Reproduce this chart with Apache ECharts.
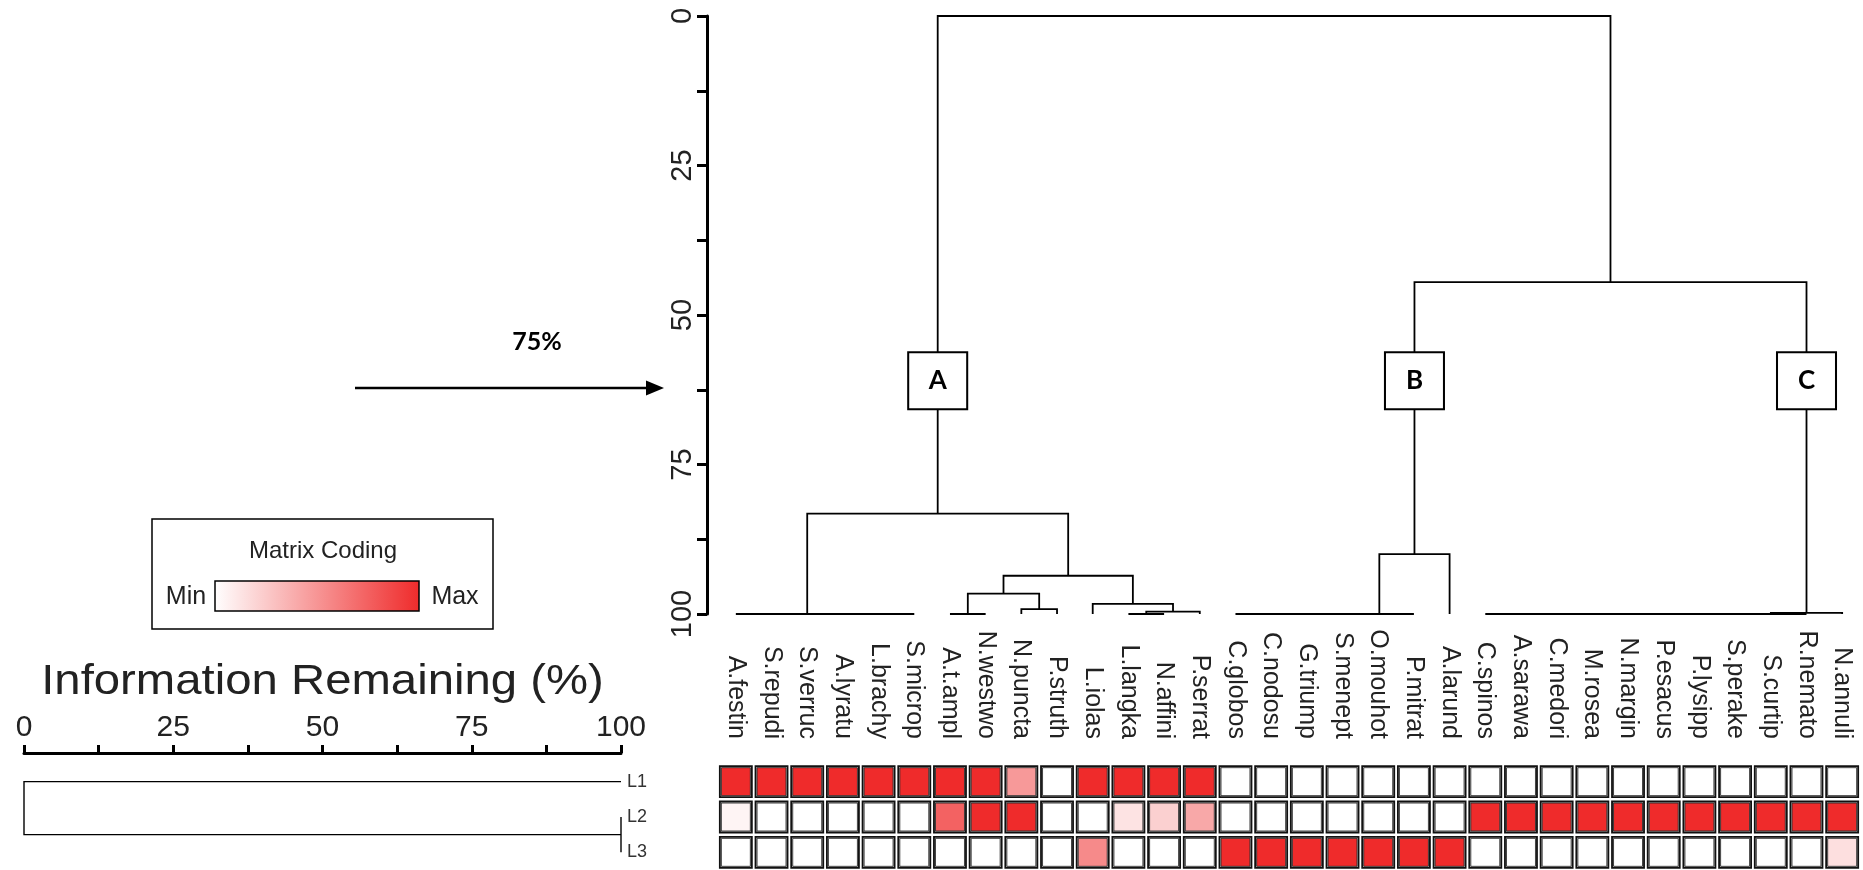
<!DOCTYPE html>
<html>
<head>
<meta charset="utf-8">
<script src="https://cdn.jsdelivr.net/npm/echarts@6/dist/echarts.min.js"></script>
<style>
html,body{margin:0;padding:0;background:#fff;}
#chart{width:1863px;height:870px;}
</style>
</head>
<body>
<div id="chart"></div>
<script>
// ---------- DATA ----------
const leafNames = ['A.festin','S.repudi','S.verruc','A.lyratu','L.brachy','S.microp','A.t.ampl','N.westwo','N.puncta','P.struth','L.iolas','L.langka','N.affini','P.serrat','C.globos','C.nodosu','G.triump','S.menept','O.mouhot','P.mitrat','A.larund','C.spinos','A.sarawa','C.medori','M.rosea','N.margin','P.esacus','P.lysipp','S.perake','S.curtip','R.nemato','N.annuli'];

// merges: [left, right, information remaining (%)]; strings = leaves, numbers = earlier merges
const leafMerges = [
  ['A.festin','S.repudi',100],
  ['S.verruc','A.lyratu',100],
  ['L.brachy','S.microp',100],
  [1,2,100],
  [0,3,100],
  ['A.t.ampl','N.westwo',100],
  ['N.puncta','P.struth',99.2],
  [5,6,96.6],
  ['L.langka','N.affini',100],
  [8,'P.serrat',99.6],
  ['L.iolas',9,98.3],
  [7,10,93.6],
  [4,11,83.2],
  ['C.globos','C.nodosu',100],
  [13,'G.triump',100],
  [14,'S.menept',100],
  [15,'O.mouhot',100],
  [16,'P.mitrat',100],
  [17,'A.larund',90.0],
  ['C.spinos','A.sarawa',100],
  [19,'C.medori',100],
  [20,'M.rosea',100],
  [21,'N.margin',100],
  [22,'P.esacus',100],
  [23,'P.lysipp',100],
  [24,'S.perake',100],
  [25,'S.curtip',100],
  [26,'R.nemato',100],
  [27,'N.annuli',99.8],
  [18,28,44.5],
  [12,29,0]
];

const clusterNames = ['A','B','C'];
const clusterMergeIndex = [12,18,28];

const rowNames = ['L1','L2','L3'];
const rowMerges = [
  ['L2','L3',100],
  ['L1',0,0]
];

const matrixL1 = [1,1,1,1,1,1,1,1,0.48,0,1,1,1,1,0,0,0,0,0,0,0,0,0,0,0,0,0,0,0,0,0,0];
const matrixL2 = [0.05,0,0,0,0,0,0.74,1,1,0,0,0.13,0.22,0.41,0,0,0,0,0,0,0,1,1,1,1,1,1,1,1,1,1,1];
const matrixL3 = [0,0,0,0,0,0,0,0,0,0,0.55,0,0,0,1,1,1,1,1,1,1,0,0,0,0,0,0,0,0,0,0,0.15];

const yTicks = [0,25,50,75,100];

// ---------- BUILD ----------
const RED = '#ef2b2b';
const nodeX = [], nodeH = [];
const treeSegs = [];
function refLeaf(r){
  if (typeof r === 'string') return {x: leafNames.indexOf(r), h: 100};
  return {x: nodeX[r], h: nodeH[r]};
}
leafMerges.forEach(function(m,k){
  const a = refLeaf(m[0]), b = refLeaf(m[1]);
  nodeX[k] = (a.x+b.x)/2; nodeH[k] = m[2];
  treeSegs.push({coords: [[a.x,a.h],[a.x,m[2]],[b.x,m[2]],[b.x,b.h]]});
});

const rowY = [], rowH = [];
const rowSegs = [];
function refRow(r){
  if (typeof r === 'string') return {y: rowNames.indexOf(r), h: 100};
  return {y: rowY[r], h: rowH[r]};
}
rowMerges.forEach(function(m,k){
  const a = refRow(m[0]), b = refRow(m[1]);
  rowY[k] = (a.y+b.y)/2; rowH[k] = m[2];
  rowSegs.push({coords: [[a.h,a.y],[m[2],a.y],[m[2],b.y],[b.h,b.y]]});
});

const boxLevel = 61;
const boxData = clusterNames.map(function(n,i){
  return {name: n, value: [nodeX[clusterMergeIndex[i]], boxLevel]};
});

const cells = [];
[matrixL1, matrixL2, matrixL3].forEach(function(row, r){
  row.forEach(function(v, c){ cells.push([c, r, v]); });
});

// layout: leaf columns share one pitch in the tree grid and the matrix grid
const matLeft = 718, matRight = 1860, treeLeft = 707;
const pitch = (matRight - matLeft) / leafNames.length;
const treeMin = -0.5 - (matLeft - treeLeft) / pitch;

const FONT = 'Liberation Sans, Arial, sans-serif';
const chart = echarts.init(document.getElementById('chart'), null, {renderer: 'canvas'});

const option = {
  animation: false,
  backgroundColor: '#ffffff',
  textStyle: {fontFamily: FONT},
  grid: [
    {left: treeLeft, right: 1863 - matRight, top: 16, height: 598, containLabel: false, outerBoundsMode: 'none'},
    {left: matLeft, right: 1863 - matRight, top: 764, height: 106, containLabel: false, outerBoundsMode: 'none'},
    {left: 24, right: 1242, top: 764, height: 106, containLabel: false, outerBoundsMode: 'none'},
    {left: 24, right: 1242, top: 753, height: 2, containLabel: false, outerBoundsMode: 'none'}
  ],
  xAxis: [
    {gridIndex: 0, type: 'value', min: treeMin, max: leafNames.length - 0.5, show: false},
    {gridIndex: 1, type: 'category', data: leafNames, position: 'top',
     axisLine: {show: false}, axisTick: {show: false}, splitLine: {show: false},
     axisLabel: {interval: 0, rotate: 90, margin: 25, fontSize: 25, color: '#222', fontFamily: FONT}},
    {gridIndex: 2, type: 'value', min: 0, max: 100, show: false},
    {gridIndex: 3, type: 'value', min: 0, max: 100, interval: 25, position: 'top',
     axisLine: {show: true, onZero: false, lineStyle: {color: '#000', width: 3}},
     axisTick: {show: true, length: 8, lineStyle: {color: '#000', width: 3}},
     minorTick: {show: true, splitNumber: 2, length: 8, lineStyle: {color: '#000', width: 3}},
     splitLine: {show: false}, minorSplitLine: {show: false},
     axisLabel: {fontSize: 30, margin: 10, color: '#222', showMinLabel: true, showMaxLabel: true, fontFamily: FONT}}
  ],
  yAxis: [
    {gridIndex: 0, type: 'value', min: 0, max: 100, interval: 25, inverse: true,
     axisLine: {show: true, onZero: false, lineStyle: {color: '#000', width: 3}},
     axisTick: {show: true, length: 10, lineStyle: {color: '#000', width: 3}},
     minorTick: {show: true, splitNumber: 2, length: 10, lineStyle: {color: '#000', width: 3}},
     splitLine: {show: false}, minorSplitLine: {show: false},
     axisLabel: {rotate: 90, fontSize: 29, margin: 10, color: '#222', showMinLabel: true, showMaxLabel: true, fontFamily: FONT,
       formatter: function(v){ return yTicks.indexOf(v) >= 0 ? String(v) : ''; }}},
    {gridIndex: 1, type: 'category', data: rowNames, inverse: true, show: false},
    {gridIndex: 2, type: 'category', data: rowNames, inverse: true, position: 'right',
     axisLine: {show: false}, axisTick: {show: false}, splitLine: {show: false},
     axisLabel: {fontSize: 18, margin: 6, color: '#333', fontFamily: FONT}},
    {gridIndex: 2, type: 'value', min: -0.5, max: 2.5, inverse: true, show: false},
    {gridIndex: 3, type: 'value', min: 0, max: 1, show: false}
  ],
  visualMap: [{
    type: 'continuous', show: false, min: 0, max: 1, dimension: 2, seriesIndex: 3,
    inRange: {color: ['#ffffff', RED]}
  }],
  series: [
    {type: 'lines', coordinateSystem: 'cartesian2d', xAxisIndex: 0, yAxisIndex: 0, polyline: true,
     clip: false, silent: true, data: treeSegs,
     lineStyle: {color: '#000', width: 1.8, opacity: 1, curveness: 0}},
    {type: 'scatter', xAxisIndex: 0, yAxisIndex: 0, data: boxData, symbol: 'rect', symbolSize: [59, 57],
     clip: false, silent: true, z: 5,
     itemStyle: {color: '#fff', borderColor: '#000', borderWidth: 2, opacity: 1},
     label: {show: true, position: 'inside', formatter: '{b}', fontSize: 26, fontWeight: 'bold', color: '#000', fontFamily: 'Lato, Open Sans, sans-serif'}},
    // cell frame (outer line of the double border)
    {type: 'scatter', xAxisIndex: 1, yAxisIndex: 1, data: cells, symbol: 'rect', symbolSize: [32, 31],
     clip: false, silent: true, z: 2,
     itemStyle: {color: '#f4f4f4', borderColor: '#111', borderWidth: 1.8, opacity: 1}},
    // cell fill (inner line of the double border)
    {type: 'scatter', xAxisIndex: 1, yAxisIndex: 1, data: cells, symbol: 'rect', symbolSize: [29, 28],
     clip: false, silent: true, z: 3,
     itemStyle: {borderColor: '#2a2a2a', borderWidth: 0.9, opacity: 1}},
    {type: 'lines', coordinateSystem: 'cartesian2d', xAxisIndex: 2, yAxisIndex: 3, polyline: true,
     clip: false, silent: true, data: rowSegs,
     lineStyle: {color: '#000', width: 1.4, opacity: 1, curveness: 0}}
  ],
  graphic: [
    {type: 'rect', shape: {x: 152, y: 519, width: 341, height: 110},
     style: {fill: '#fff', stroke: '#000', lineWidth: 1.5}, z: 1},
    {type: 'rect', shape: {x: 215, y: 581, width: 204, height: 30},
     style: {fill: {type: 'linear', x: 0, y: 0, x2: 1, y2: 0, colorStops: [{offset: 0, color: '#ffffff'}, {offset: 1, color: RED}]},
             stroke: '#000', lineWidth: 1.5}, z: 2},
    {type: 'text', x: 323, y: 551, z: 2,
     style: {text: 'Matrix Coding', fill: '#222', font: '24px Liberation Sans', align: 'center', verticalAlign: 'middle'}},
    {type: 'text', x: 186, y: 597, z: 2,
     style: {text: 'Min', fill: '#222', font: '25px Liberation Sans', align: 'center', verticalAlign: 'middle'}},
    {type: 'text', x: 455, y: 597, z: 2,
     style: {text: 'Max', fill: '#222', font: '25px Liberation Sans', align: 'center', verticalAlign: 'middle'}},
    {type: 'text', x: 322.5, y: 682, scaleX: 1.1, z: 2,
     style: {text: 'Information Remaining (%)', fill: '#222', font: '43px Liberation Sans', align: 'center', verticalAlign: 'middle'}},
    {type: 'text', x: 537, y: 342, z: 2,
     style: {text: '75%', fill: '#000', font: 'bold 25px Lato', align: 'center', verticalAlign: 'middle'}},
    {type: 'line', shape: {x1: 355, y1: 388, x2: 650, y2: 388}, style: {stroke: '#000', lineWidth: 2.5}, z: 2},
    {type: 'polygon', shape: {points: [[664, 388], [646, 380.5], [646, 395.5]]}, style: {fill: '#000'}, z: 2}
  ]
};
chart.setOption(option);
</script>
</body>
</html>
